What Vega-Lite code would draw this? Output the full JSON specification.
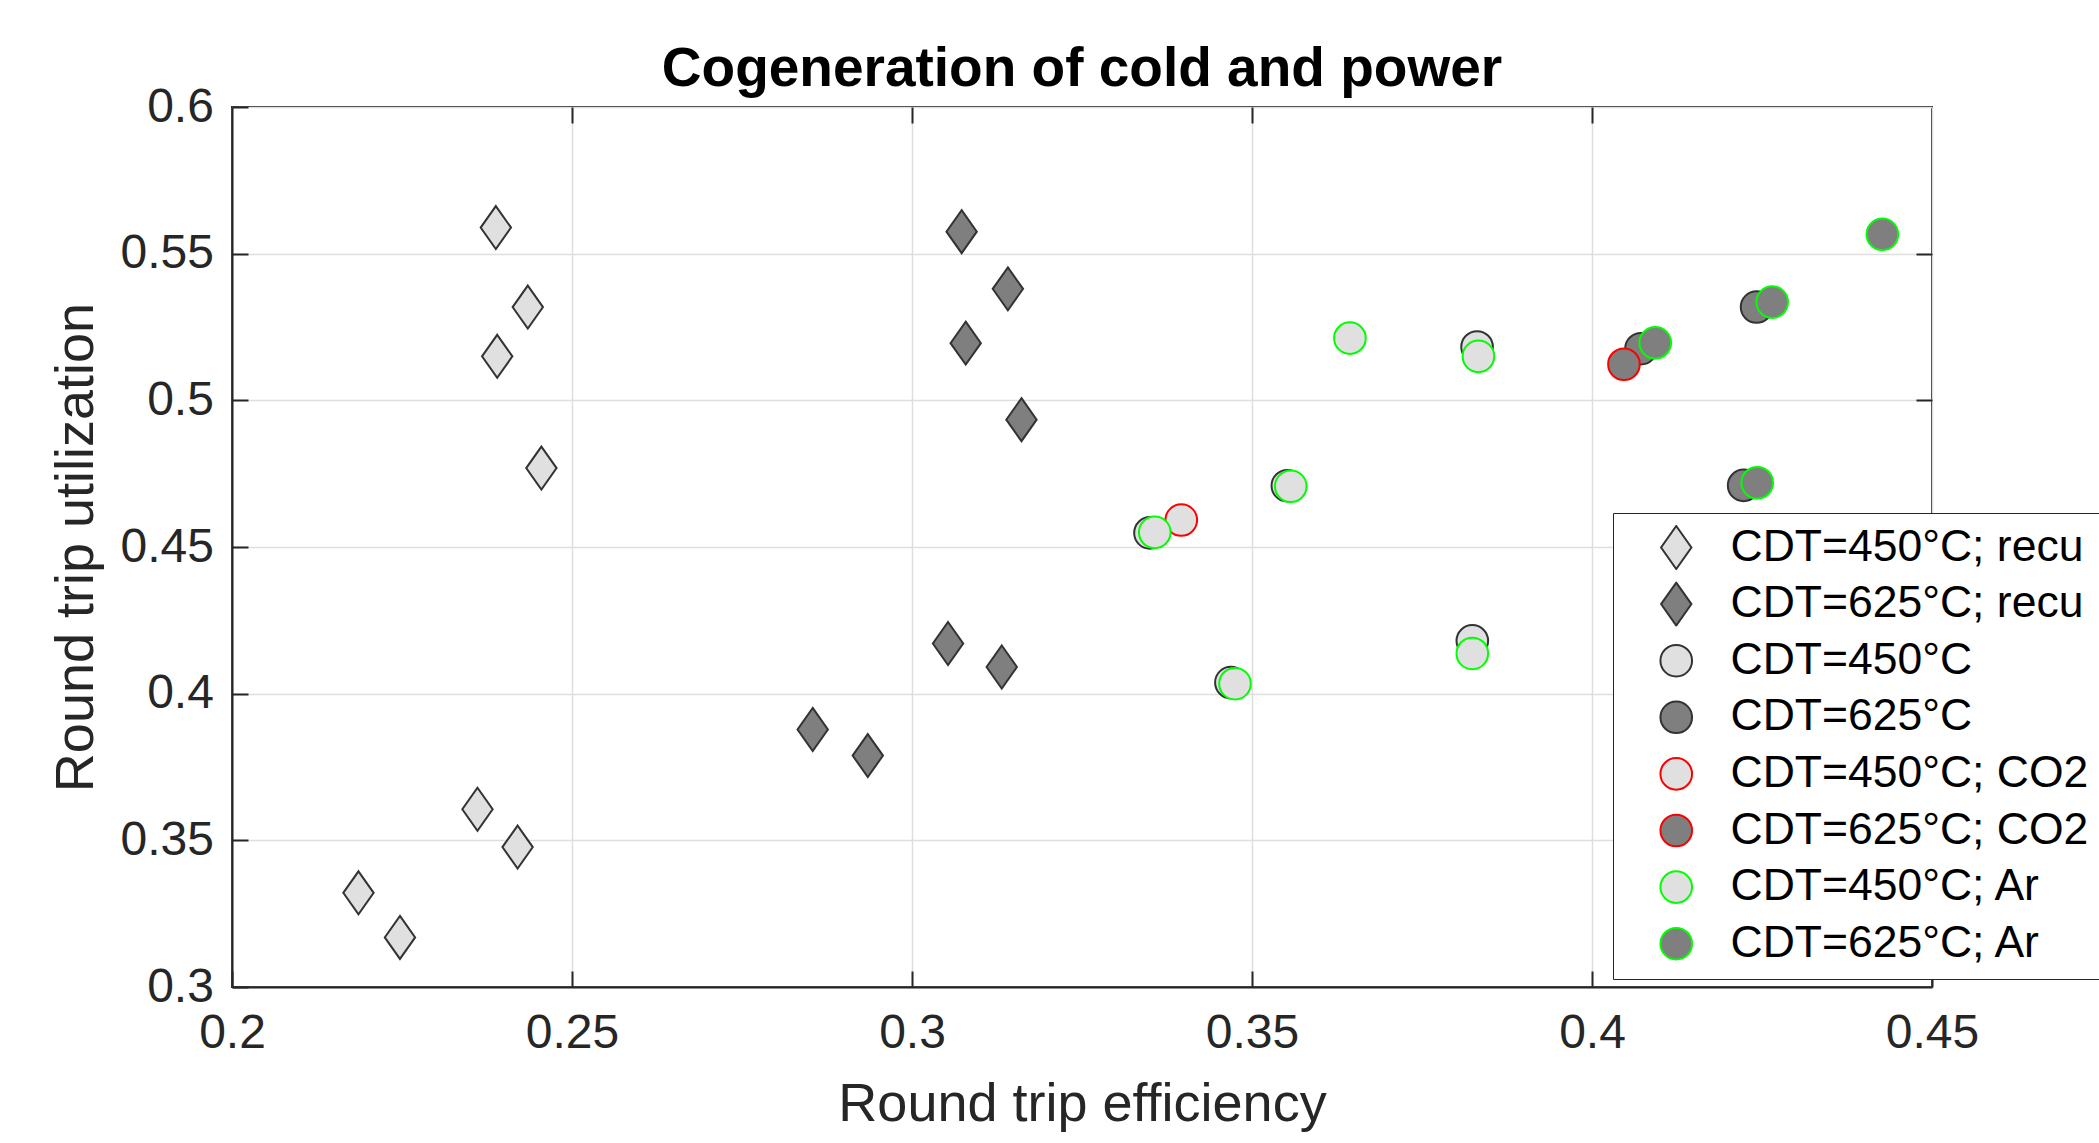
{
  "$schema": "https://vega.github.io/schema/vega-lite/v6.json",
  "width": 1700,
  "height": 880,
  "autosize": {"type": "none"},
  "padding": {"left": 232, "top": 107, "right": 167, "bottom": 156},
  "background": "white",
  "config": {
    "view": {"stroke": "#262626", "strokeWidth": 2},
    "font": "Liberation Sans"
  },
  "title": {"text": "Cogeneration of cold and power", "fontSize": 55, "font": "Liberation Sans", "fontWeight": "bold", "color": "#000000", "offset": -15, "anchor": "middle"},
  "data": {"values": [
    {"series": "CDT=450°C; recu", "eff": 0.2388, "util": 0.5589},
    {"series": "CDT=450°C; recu", "eff": 0.2435, "util": 0.5318},
    {"series": "CDT=450°C; recu", "eff": 0.2390, "util": 0.5150},
    {"series": "CDT=450°C; recu", "eff": 0.2455, "util": 0.4769},
    {"series": "CDT=450°C; recu", "eff": 0.2361, "util": 0.3606},
    {"series": "CDT=450°C; recu", "eff": 0.2420, "util": 0.3477},
    {"series": "CDT=450°C; recu", "eff": 0.2186, "util": 0.3321},
    {"series": "CDT=450°C; recu", "eff": 0.2247, "util": 0.3169},
    {"series": "CDT=625°C; recu", "eff": 0.3073, "util": 0.5575},
    {"series": "CDT=625°C; recu", "eff": 0.3141, "util": 0.5380},
    {"series": "CDT=625°C; recu", "eff": 0.3079, "util": 0.5195},
    {"series": "CDT=625°C; recu", "eff": 0.3161, "util": 0.4934},
    {"series": "CDT=625°C; recu", "eff": 0.3053, "util": 0.4171},
    {"series": "CDT=625°C; recu", "eff": 0.3132, "util": 0.4091},
    {"series": "CDT=625°C; recu", "eff": 0.2854, "util": 0.3878},
    {"series": "CDT=625°C; recu", "eff": 0.2935, "util": 0.3789},
    {"series": "CDT=450°C", "eff": 0.3831, "util": 0.5182},
    {"series": "CDT=450°C", "eff": 0.3552, "util": 0.4709},
    {"series": "CDT=450°C", "eff": 0.3350, "util": 0.4548},
    {"series": "CDT=450°C", "eff": 0.3824, "util": 0.4180},
    {"series": "CDT=450°C", "eff": 0.3469, "util": 0.4038},
    {"series": "CDT=625°C", "eff": 0.4242, "util": 0.5318},
    {"series": "CDT=625°C", "eff": 0.4072, "util": 0.5176},
    {"series": "CDT=625°C", "eff": 0.4223, "util": 0.4710},
    {"series": "CDT=450°C; CO2", "eff": 0.3396, "util": 0.4592},
    {"series": "CDT=625°C; CO2", "eff": 0.4047, "util": 0.5123},
    {"series": "CDT=450°C; Ar", "eff": 0.3644, "util": 0.5212},
    {"series": "CDT=450°C; Ar", "eff": 0.3833, "util": 0.5150},
    {"series": "CDT=450°C; Ar", "eff": 0.3557, "util": 0.4707},
    {"series": "CDT=450°C; Ar", "eff": 0.3357, "util": 0.4550},
    {"series": "CDT=450°C; Ar", "eff": 0.3824, "util": 0.4137},
    {"series": "CDT=450°C; Ar", "eff": 0.3475, "util": 0.4034},
    {"series": "CDT=625°C; Ar", "eff": 0.4427, "util": 0.5566},
    {"series": "CDT=625°C; Ar", "eff": 0.4265, "util": 0.5335},
    {"series": "CDT=625°C; Ar", "eff": 0.4093, "util": 0.5196},
    {"series": "CDT=625°C; Ar", "eff": 0.4243, "util": 0.4719}
  ]},
  "layer": [
    {
      "mark": {"type": "point", "filled": true, "opacity": 1, "fillOpacity": 1, "strokeOpacity": 1, "strokeWidth": 2, "size": 1000},
      "encoding": {
        "x": {
          "field": "eff", "type": "quantitative",
          "scale": {"domain": [0.2, 0.45], "nice": false, "zero": false},
          "axis": {
            "orient": "bottom", "values": [0.2, 0.25, 0.3, 0.35, 0.4, 0.45], "format": "~g",
            "title": "Round trip efficiency", "titleFontSize": 54, "titleFontWeight": "normal", "titleColor": "#262626", "titlePadding": 20,
            "labelFontSize": 48, "labelColor": "#262626", "labelPadding": 38, "labelFlush": false,
            "tickSize": -16, "tickWidth": 2, "tickColor": "#262626",
            "domainColor": "#262626", "domainWidth": 2,
            "grid": true, "gridColor": "#dedede", "gridWidth": 1.5
          }
        },
        "y": {
          "field": "util", "type": "quantitative",
          "scale": {"domain": [0.3, 0.6], "nice": false, "zero": false},
          "axis": {
            "orient": "left", "values": [0.3, 0.35, 0.4, 0.45, 0.5, 0.55, 0.6], "format": "~g",
            "title": "Round trip utilization", "titleFontSize": 54, "titleFontWeight": "normal", "titleColor": "#262626", "titlePadding": 16,
            "labelFontSize": 48, "labelColor": "#262626", "labelPadding": 34.6, "labelFlush": false,
            "tickSize": -16, "tickWidth": 2, "tickColor": "#262626",
            "domainColor": "#262626", "domainWidth": 2,
            "grid": true, "gridColor": "#dedede", "gridWidth": 1.5
          }
        },
        "shape": {
          "field": "series", "type": "nominal",
          "scale": {
            "domain": ["CDT=450°C; recu", "CDT=625°C; recu", "CDT=450°C", "CDT=625°C", "CDT=450°C; CO2", "CDT=625°C; CO2", "CDT=450°C; Ar", "CDT=625°C; Ar"],
            "range": ["M0,-1.36L0.96,0L0,1.36L-0.96,0Z", "M0,-1.36L0.96,0L0,1.36L-0.96,0Z", "circle", "circle", "circle", "circle", "circle", "circle"]
          },
          "legend": {
            "orient": "none", "legendX": 1381, "legendY": 406, "title": null,
            "labelFont": "Liberation Sans", "labelFontSize": 44.5, "labelColor": "#000000", "labelLimit": 0,
            "strokeColor": "#262626", "fillColor": "#ffffff",
            "padding": 12, "symbolOffset": 29, "labelOffset": 32, "rowPadding": 10.6, "clipHeight": 45,
            "symbolSize": 1000, "symbolStrokeWidth": 2,
            "encode": {"legend": {"update": {"strokeWidth": {"value": 2}}}}
          }
        },
        "fill": {
          "field": "series", "type": "nominal",
          "scale": {
            "domain": ["CDT=450°C; recu", "CDT=625°C; recu", "CDT=450°C", "CDT=625°C", "CDT=450°C; CO2", "CDT=625°C; CO2", "CDT=450°C; Ar", "CDT=625°C; Ar"],
            "range": ["#e0e0e0", "#7f7f7f", "#e0e0e0", "#7f7f7f", "#e0e0e0", "#7f7f7f", "#e0e0e0", "#7f7f7f"]
          }
        },
        "stroke": {
          "field": "series", "type": "nominal",
          "scale": {
            "domain": ["CDT=450°C; recu", "CDT=625°C; recu", "CDT=450°C", "CDT=625°C", "CDT=450°C; CO2", "CDT=625°C; CO2", "CDT=450°C; Ar", "CDT=625°C; Ar"],
            "range": ["#333333", "#333333", "#333333", "#333333", "#ff0000", "#ff0000", "#00ff00", "#00ff00"]
          }
        }
      }
    },
    {
      "mark": {"type": "point", "opacity": 0},
      "encoding": {
        "x": {
          "field": "eff", "type": "quantitative",
          "axis": {"orient": "top", "values": [0.25, 0.3, 0.35, 0.4], "labels": false, "title": null, "grid": false, "domain": false,
                   "tickSize": -16, "tickWidth": 2, "tickColor": "#262626"}
        },
        "y": {
          "field": "util", "type": "quantitative",
          "axis": {"orient": "right", "values": [0.35, 0.4, 0.45, 0.5, 0.55], "labels": false, "title": null, "grid": false, "domain": false,
                   "tickSize": -16, "tickWidth": 2, "tickColor": "#262626"}
        }
      }
    }
  ],
  "resolve": {"axis": {"x": "independent", "y": "independent"}}
}
